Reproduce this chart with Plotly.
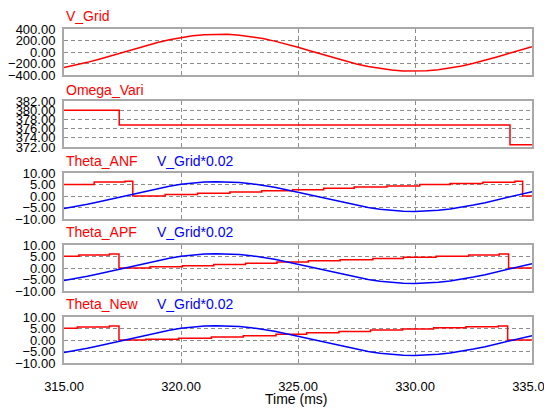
import plotly.graph_objects as go

# ---------------- data ----------------
time_ms = [315.0, 315.5, 316.0, 316.5, 317.0, 317.5, 318.0, 318.5, 319.0, 319.5,
           320.0, 320.5, 321.0, 321.5, 322.0, 322.5, 323.0, 323.5, 324.0, 324.5,
           325.0, 325.5, 326.0, 326.5, 327.0, 327.5, 328.0, 328.5, 329.0, 329.5,
           330.0, 330.5, 331.0, 331.5, 332.0, 332.5, 333.0, 333.5, 334.0, 334.5, 335.0]
v_grid = [-270, -229, -180, -125, -67, -6, 55, 113, 166, 214,
          253, 283, 302, 311, 308, 293, 268, 233, 189, 138,
          82, 22, -38, -98, -155, -207, -252, -288, -314, -330,
          -335, -328, -310, -281, -243, -197, -145, -86, -26, 35, 94]
v_scale = 0.02

omega_t = [315.0, 317.36, 334.06, 335.0]
omega_v = [380.0, 376.8, 372.5, 372.5]

anf_t = [315.0, 316.29, 317.61, 317.94, 319.32, 320.71, 322.09, 323.45, 324.77,
         326.1, 327.4, 328.8, 330.2, 331.5, 332.9, 334.27, 334.6, 335.0]
anf_v = [5.0, 6.05, 6.4, 0.0, 0.6, 1.15, 1.7, 2.25, 2.75, 3.35, 3.9, 4.4, 4.95,
         5.45, 5.95, 6.4, 0.0, 0.0]

apf_t = [315.0, 315.64, 316.94, 317.35, 318.68, 320.06, 321.4, 322.76, 324.1,
         325.44, 326.8, 328.2, 329.5, 330.9, 332.3, 333.6, 334.0, 335.0]
apf_v = [5.15, 5.6, 6.05, 0.0, 0.5, 1.0, 1.55, 2.1, 2.6, 3.1, 3.6, 4.1, 4.65,
         5.15, 5.6, 6.05, 0.0, 0.0]

new_t = [315.0, 315.57, 316.94, 317.35, 318.5, 319.9, 321.3, 322.66, 324.06,
         325.37, 326.75, 328.1, 329.47, 330.8, 332.18, 333.56, 333.96, 335.0]
new_v = [5.1, 5.6, 6.1, 0.0, 0.35, 0.8, 1.3, 1.85, 2.45, 3.1, 3.7, 4.3, 4.8,
         5.35, 5.8, 6.1, 0.0, 0.0]

x_ticks = [315, 320, 325, 330, 335]
vgrid_ticks = [-400, -200, 0, 200, 400]
omega_ticks = [372, 374, 376, 378, 380, 382]
theta_ticks = [-10, -5, 0, 5, 10]

panel_titles = [("V_Grid", None), ("Omega_Vari", None), ("Theta_ANF", "V_Grid*0.02"),
                ("Theta_APF", "V_Grid*0.02"), ("Theta_New", "V_Grid*0.02")]

# ---------------- layout helpers ----------------
# page body has an 8px margin, so work in window pixels and shift by OFF
OFF = 8
W, H = 552, 400
PLOT_L, PLOT_R = 64, 532          # window px
PLOT_T, PLOT_B = 29, 363          # window px
ML = PLOT_L - OFF
MT = PLOT_T - OFF
PW = PLOT_R - PLOT_L
PH = PLOT_B - PLOT_T
MR = W - ML - PW
MB = H - MT - PH
panel_top = [29, 101, 173, 245, 317]   # window px
panel_h = 46
title_y = [16.5, 90, 160.5, 232, 304]  # window px

def py(ypix):
    return (PLOT_B - ypix) / PH

def px(xpix):
    return (xpix - PLOT_L) / PW

RED = "#ff0000"
BLUE = "#0000ff"
FRAME = "#a8a8a8"
GRID = "#8c8c8c"
DASH = "4px,3px"
FONT = "Arial, Liberation Sans, sans-serif"
TICKFONT = dict(size=13, family=FONT, color="black")

fig = go.Figure()
v_blue = [v * v_scale for v in v_grid]

def add(i, x, y, color, shape="linear"):
    fig.add_trace(go.Scatter(x=x, y=y, mode="lines", line=dict(color=color, width=1.5, shape=shape),
                             xaxis="x" if i == 1 else f"x{i}", yaxis="y" if i == 1 else f"y{i}",
                             showlegend=False, hoverinfo="skip"))

add(1, time_ms, v_grid, RED)
add(2, omega_t, omega_v, RED, "hv")
add(3, anf_t, anf_v, RED, "hv")
add(3, time_ms, v_blue, BLUE)
add(4, apf_t, apf_v, RED, "hv")
add(4, time_ms, v_blue, BLUE)
add(5, new_t, new_v, RED, "hv")
add(5, time_ms, v_blue, BLUE)

yranges = [(-400, 400), (372, 382), (-10, 10), (-10, 10), (-10, 10)]
yticks = [vgrid_ticks, omega_ticks, theta_ticks, theta_ticks, theta_ticks]

layout = dict(width=W, height=H, margin=dict(l=ML, r=MR, t=MT, b=MB, autoexpand=False),
              paper_bgcolor="white", plot_bgcolor="white",
              font=dict(family=FONT, size=14, color="black"))

annotations = []
for k in range(5):
    i = k + 1
    top = panel_top[k]
    bot = top + panel_h
    xa = dict(domain=[0, 1], anchor="y" if i == 1 else f"y{i}", range=[315, 335],
              tickvals=x_ticks, tickformat=".2f", showgrid=True, gridcolor=GRID,
              griddash=DASH, gridwidth=1, zeroline=False, showline=True, mirror=True,
              linecolor=FRAME, linewidth=2, showticklabels=(i == 5), automargin=False,
              ticks="outside" if i == 5 else "", ticklen=10, tickcolor="rgba(0,0,0,0)",
              ticklabeloverflow="allow", tickfont=TICKFONT)
    if i != 1:
        xa["matches"] = "x"
    ya = dict(domain=[py(bot), py(top)], anchor="x" if i == 1 else f"x{i}",
              range=list(yranges[k]), tickvals=yticks[k], tickformat=".2f",
              showgrid=True, gridcolor=GRID, griddash=DASH, gridwidth=1,
              zeroline=False, showline=True, mirror=True, linecolor=FRAME, linewidth=2,
              ticks="outside", ticklen=4, tickcolor="rgba(0,0,0,0)", automargin=False,
              ticklabeloverflow="allow", tickfont=TICKFONT)
    layout["xaxis" if i == 1 else f"xaxis{i}"] = xa
    layout["yaxis" if i == 1 else f"yaxis{i}"] = ya

    t1, t2 = panel_titles[k]
    ty = py(title_y[k])
    annotations.append(dict(text=t1, x=0, y=ty, xref="paper", yref="paper",
                            xanchor="left", yanchor="middle", showarrow=False,
                            font=dict(color=RED, size=14, family=FONT)))
    if t2:
        annotations.append(dict(text=t2, x=px(155), y=ty, xref="paper", yref="paper",
                                xanchor="left", yanchor="middle", showarrow=False,
                                font=dict(color=BLUE, size=14, family=FONT)))

annotations.append(dict(text="Time (ms)", x=px(296), y=py(399), xref="paper", yref="paper",
                        xanchor="center", yanchor="middle", showarrow=False,
                        font=dict(color="black", size=14, family=FONT)))
layout["annotations"] = annotations
fig.update_layout(**layout)

fig.write_html("out.html")
